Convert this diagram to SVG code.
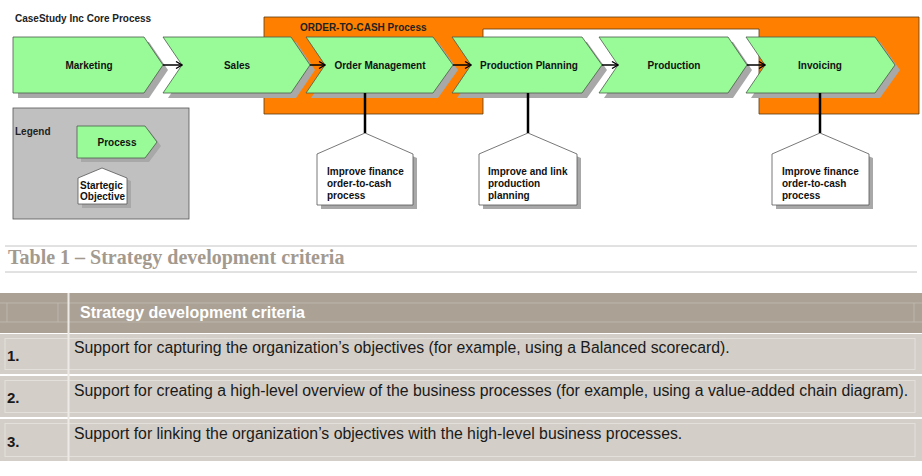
<svg xmlns="http://www.w3.org/2000/svg" width="922" height="476" viewBox="0 0 922 476">
<defs>
<marker id="arr" markerWidth="8" markerHeight="8" refX="7" refY="4" orient="auto" markerUnits="userSpaceOnUse">
<path d="M1,0.5 L7,4 L1,7.5" fill="none" stroke="#000" stroke-width="1.3"/>
</marker>
</defs>
<style>
.t{font-family:"Liberation Sans",Arial,sans-serif;}
.lbl{font-family:"Liberation Sans",Arial,sans-serif;font-size:10px;font-weight:bold;fill:#111;text-anchor:middle;}
.obj{font-family:"Liberation Sans",Arial,sans-serif;font-size:10px;font-weight:bold;fill:#111;}
.chev{fill:#98FB98;stroke:#4a5a4a;stroke-width:0.8;}
.sh{fill:#a8a8a8;}
.house{fill:#fff;stroke:#555;stroke-width:0.8;}
.conn{stroke:#000;stroke-width:1.5;fill:none;}
.vline{stroke:#000;stroke-width:2.5;}
.row{fill:#D3CEC8;}
.inner{fill:none;stroke:#E3DFDA;stroke-width:1;}
.rt{font-family:"Liberation Sans",Arial,sans-serif;font-size:15.8px;fill:#1a1a1a;}
.num{font-family:"Liberation Sans",Arial,sans-serif;font-size:15px;font-weight:bold;fill:#1a1a1a;}
</style>
<rect width="922" height="476" fill="#fff"/>

<text class="t" x="15" y="22" font-size="10" font-weight="bold" fill="#222">CaseStudy Inc Core Process</text>

<g id="order-to-cash">
<path d="M264,17 H919 V114 H759 V29 H483 V114 H264 Z" fill="#FF8000" stroke="#5a3a10" stroke-width="0.8"/>
<text class="t" x="300" y="31" font-size="10" font-weight="bold" fill="#222">ORDER-TO-CASH Process</text>
</g>

<g id="legend">
<rect x="13" y="108" width="176" height="111" fill="#C0C0C0" stroke="#555" stroke-width="0.8"/>
<text class="t" x="15" y="135" font-size="10" font-weight="bold" fill="#222">Legend</text>
<path class="sh" d="M81,130 H149 L161,146 L149,162 H81 Z"/>
<path class="chev" d="M77,126 H145 L157,142 L145,158 H77 Z"/>
<text class="lbl" x="117" y="146">Process</text>
<path class="sh" d="M106,171 L131,181 V208 H82 V181 Z"/>
<path class="house" d="M102,168 L127,178 V204 H78 V178 Z"/>
<text class="obj" x="80" y="189">Startegic</text>
<text class="obj" x="80" y="200">Objective</text>
</g>

<g id="marketing">
<path class="sh" d="M18,42 H149 L168,70 L149,98 H18 Z"/>
<path class="chev" d="M13,37 H144 L163,65 L144,93 H13 Z"/>
<text class="lbl" x="89" y="69">Marketing</text>
</g>
<g id="sales">
<path class="sh" d="M168,42 H296 L315,70 L296,98 H168 L187,70 Z"/>
<path class="chev" d="M163,37 H291 L310,65 L291,93 H163 L182,65 Z"/>
<text class="lbl" x="237" y="69">Sales</text>
</g>
<g id="order-management">
<path class="sh" d="M311,42 H438 L458,70 L438,98 H311 L330,70 Z"/>
<path class="chev" d="M306,37 H433 L453,65 L433,93 H306 L325,65 Z"/>
<text class="lbl" x="380" y="69">Order Management</text>
</g>
<g id="production-planning">
<path class="sh" d="M457,42 H587 L607,70 L587,98 H457 L476,70 Z"/>
<path class="chev" d="M452,37 H582 L602,65 L582,93 H452 L471,65 Z"/>
<text class="lbl" x="529" y="69">Production Planning</text>
</g>
<g id="production">
<path class="sh" d="M604,42 H733 L752,70 L733,98 H604 L623,70 Z"/>
<path class="chev" d="M599,37 H728 L747,65 L728,93 H599 L618,65 Z"/>
<text class="lbl" x="674" y="69">Production</text>
</g>
<g id="invoicing">
<path class="sh" d="M751,42 H880 L900,70 L880,98 H751 L770,70 Z"/>
<path class="chev" d="M746,37 H875 L895,65 L875,93 H746 L765,65 Z"/>
<text class="lbl" x="820" y="69">Invoicing</text>
</g>

<g id="obj-finance-1">
<path class="sh" d="M369,137 L417,158 V209 H321 V158 Z"/>
<path class="house" d="M365,133 L413,154 V205 H317 V154 Z"/>
<text class="obj" x="327" y="175">Improve finance</text>
<text class="obj" x="327" y="187">order-to-cash</text>
<text class="obj" x="327" y="199">process</text>
</g>
<g id="obj-production">
<path class="sh" d="M532,137 L581,158 V209 H483 V158 Z"/>
<path class="house" d="M528,133 L577,154 V205 H479 V154 Z"/>
<text class="obj" x="488" y="175">Improve and link</text>
<text class="obj" x="488" y="187">production</text>
<text class="obj" x="488" y="199">planning</text>
</g>
<g id="obj-finance-2">
<path class="sh" d="M824,137 L873,158 V209 H776 V158 Z"/>
<path class="house" d="M820,133 L869,154 V205 H772 V154 Z"/>
<text class="obj" x="782" y="175">Improve finance</text>
<text class="obj" x="782" y="187">order-to-cash</text>
<text class="obj" x="782" y="199">process</text>
</g>

<g id="connectors">
<line class="conn" x1="163" y1="65" x2="182" y2="65" marker-end="url(#arr)"/>
<line class="conn" x1="310" y1="65" x2="325" y2="65" marker-end="url(#arr)"/>
<line class="conn" x1="453" y1="65" x2="471" y2="65" marker-end="url(#arr)"/>
<line class="conn" x1="602" y1="65" x2="618" y2="65" marker-end="url(#arr)"/>
<line class="conn" x1="747" y1="65" x2="765" y2="65" marker-end="url(#arr)"/>
<line class="vline" x1="365" y1="93" x2="365" y2="133"/>
<line class="vline" x1="528" y1="93" x2="528" y2="133"/>
<line class="vline" x1="820" y1="93" x2="820" y2="133"/>
</g>

<g id="table">
<line x1="5" y1="246" x2="917" y2="246" stroke="#C4C4C4" stroke-width="1"/>
<line x1="5" y1="272" x2="917" y2="272" stroke="#C4C4C4" stroke-width="1"/>
<text x="8" y="264" font-family="'Liberation Serif','Times New Roman',serif" font-size="20" font-weight="bold" fill="#A39A8F">Table 1 – Strategy development criteria</text>

<rect x="0" y="293" width="922" height="40" fill="#ABA195"/>
<line x1="0" y1="303" x2="922" y2="303" stroke="#BEB6AC" stroke-width="1"/>
<line x1="0" y1="322" x2="922" y2="322" stroke="#BEB6AC" stroke-width="1"/>
<line x1="7" y1="303" x2="7" y2="322" stroke="#BEB6AC" stroke-width="1"/>
<line x1="58" y1="303" x2="58" y2="322" stroke="#BEB6AC" stroke-width="1"/>
<line x1="914" y1="303" x2="914" y2="322" stroke="#BEB6AC" stroke-width="1"/>
<text x="80" y="318" font-family="'Liberation Sans',Arial,sans-serif" font-size="16" font-weight="bold" fill="#fff">Strategy development criteria</text>

<rect class="row" x="0" y="334" width="922" height="40"/>
<rect class="row" x="0" y="376" width="922" height="41"/>
<rect class="row" x="0" y="419" width="922" height="42"/>
<rect class="inner" x="5" y="338.5" width="910" height="31"/>
<rect class="inner" x="5" y="380.5" width="910" height="32"/>
<rect class="inner" x="5" y="423.5" width="910" height="33"/>
<line x1="68.5" y1="293" x2="68.5" y2="461" stroke="#EDEAE6" stroke-width="2"/>

<text class="num" x="7" y="361">1.</text>
<text class="num" x="7" y="403">2.</text>
<text class="num" x="7" y="447">3.</text>
<text class="rt" x="74" y="353">Support for capturing the organization’s objectives (for example, using a Balanced scorecard).</text>
<text class="rt" x="74" y="396">Support for creating a high-level overview of the business processes (for example, using a value-added chain diagram).</text>
<text class="rt" x="74" y="439">Support for linking the organization’s objectives with the high-level business processes.</text>
</g>
</svg>
